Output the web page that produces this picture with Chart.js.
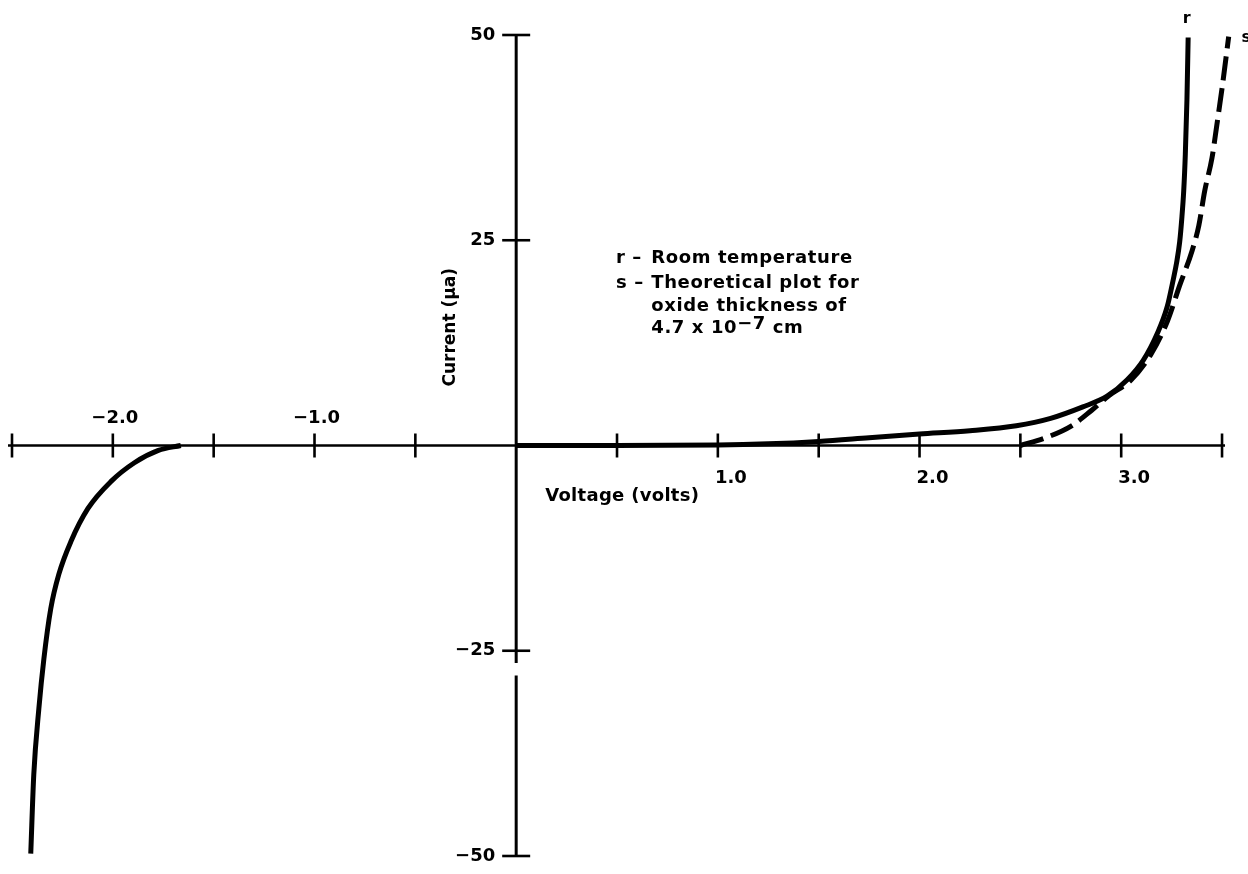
<!DOCTYPE html>
<html>
<head>
<meta charset="utf-8">
<script src="https://cdn.jsdelivr.net/npm/chart.js@4/dist/chart.umd.min.js"></script>
<style>
  html, body { margin: 0; padding: 0; background: #fff; }
  #wrap { width: 1248px; height: 874px; }
</style>
</head>
<body>
<div id="wrap"><canvas id="c" width="1248" height="874"></canvas></div>
<script>
// ---- data ----
// curve r (room temperature, solid): left branch, gap, right branch
const rX = [-2.407, -2.392, -2.367, -2.342, -2.308, -2.268, -2.208, -2.124, -2.01, -1.893, -1.774, -1.663,
            -1.0,
            0.0, 0.5, 1.0, 1.25, 1.5, 1.75, 2.0, 2.25, 2.48, 2.65, 2.81, 2.93, 3.03, 3.11, 3.18, 3.228, 3.258, 3.275, 3.29, 3.30, 3.31, 3.318, 3.326, 3.332];
const rY = [-49.7, -40.1, -32.1, -26.0, -19.9, -15.7, -11.7, -7.7, -4.4, -2.1, -0.6, 0.0,
            null,
            0.0, 0.0, 0.05, 0.2, 0.5, 0.95, 1.4, 1.8, 2.4, 3.3, 4.7, 6.0, 8.0, 10.4, 13.7, 16.9, 20.2, 22.3, 24.8, 27.5, 31.0, 35.5, 42.1, 49.7];
// curve s (theoretical, dashed)
const sX = [2.5, 2.62, 2.754, 2.854, 2.94, 3.05, 3.15, 3.23, 3.29, 3.35, 3.385, 3.414, 3.45, 3.474, 3.50, 3.533];
const sY = [0.0, 0.9, 2.4, 4.3, 6.1, 8.0, 11.2, 15.2, 19.5, 23.6, 26.8, 31.0, 35.0, 39.0, 43.5, 49.8];

// axis ticks and labels
const xAxisStart = -2.5, xAxisEnd = 3.5, yAxisTop = 50, yAxisBottom = -50;
const xViewMin = -2.5, xViewMax = 3.6, yViewMin = -50, yViewMax = 52;
const xTickValues = [-2.5, -2, -1.5, -1, -0.5, 0.5, 1, 1.5, 2, 2.5, 3, 3.5];
const xLabelValues = [-2, -1, 1, 2, 3];
const xLabelTexts = ['\u22122.0', '\u22121.0', '1.0', '2.0', '3.0'];
const yTickValues = [50, 25, -25, -50];
const yLabelTexts = ['50', '25', '\u221225', '\u221250'];
const yAxisBreak = [-26.5, -28.0];

const xTitle = 'Voltage (volts)';
const yTitle = 'Current (\u03bca)';
const noteLines = ['r \u2013 Room temperature', 's \u2013 Theoretical plot for', 'oxide thickness of'];
const noteLast = ['4.7 x 10', '\u22127', ' cm'];

const FONT = 'bold 18px "DejaVu Sans", sans-serif';

const toPts = (xs, ys) => xs.map((x, i) => ({ x: x, y: ys[i] }));

const axesPlugin = {
  id: 'crossAxes',
  beforeDatasetsDraw(chart) {
    const ctx = chart.ctx;
    const xs = chart.scales.x, ys = chart.scales.y;
    const x0 = xs.getPixelForValue(0), y0 = ys.getPixelForValue(0);
    ctx.save();
    ctx.strokeStyle = '#000';
    ctx.lineWidth = 2.6;
    ctx.lineCap = 'butt';
    // x axis
    ctx.beginPath();
    ctx.moveTo(xs.getPixelForValue(xAxisStart) - 4, y0);
    ctx.lineTo(xs.getPixelForValue(xAxisEnd) + 3, y0);
    ctx.stroke();
    xTickValues.forEach(v => {
      const p = xs.getPixelForValue(v);
      ctx.beginPath(); ctx.moveTo(p, y0 - 12); ctx.lineTo(p, y0 + 12); ctx.stroke();
    });
    // y axis (with small break as in the original)
    ctx.lineWidth = 3;
    ctx.beginPath();
    ctx.moveTo(x0, ys.getPixelForValue(yAxisTop));
    ctx.lineTo(x0, ys.getPixelForValue(yAxisBreak[0]));
    ctx.moveTo(x0, ys.getPixelForValue(yAxisBreak[1]));
    ctx.lineTo(x0, ys.getPixelForValue(yAxisBottom));
    ctx.stroke();
    ctx.lineWidth = 2.6;
    yTickValues.forEach(v => {
      const p = ys.getPixelForValue(v);
      ctx.beginPath(); ctx.moveTo(x0 - 14, p); ctx.lineTo(x0 + 14, p); ctx.stroke();
    });
    ctx.restore();
  },
  afterDatasetsDraw(chart) {
    const ctx = chart.ctx;
    const xs = chart.scales.x, ys = chart.scales.y;
    const x0 = xs.getPixelForValue(0), y0 = ys.getPixelForValue(0);
    ctx.save();
    ctx.fillStyle = '#000';
    ctx.font = FONT;
    ctx.textBaseline = 'middle';
    // x tick labels: negatives above, positives below and slightly right
    xLabelValues.forEach((v, i) => {
      const p = xs.getPixelForValue(v);
      ctx.textAlign = 'center';
      if (v < 0) ctx.fillText(xLabelTexts[i], p + 2, y0 - 27);
      else ctx.fillText(xLabelTexts[i], p + 13, y0 + 33);
    });
    // y tick labels
    yTickValues.forEach((v, i) => {
      const p = ys.getPixelForValue(v);
      ctx.textAlign = 'right';
      ctx.fillText(yLabelTexts[i], x0 - 21, p);
    });
    // axis titles
    ctx.font = 'bold 18px "DejaVu Sans", sans-serif';
    ctx.letterSpacing = '0.3px';
    ctx.textAlign = 'left';
    ctx.fillText(xTitle, x0 + 29, y0 + 51);
    ctx.save();
    ctx.translate(x0 - 66, ys.getPixelForValue(14.4));
    ctx.rotate(-Math.PI / 2);
    ctx.textAlign = 'center';
    ctx.font = 'bold 17px "DejaVu Sans", sans-serif';
    ctx.letterSpacing = '0px';
    ctx.fillText(yTitle, 0, 0);
    ctx.restore();
    // note text
    const nx = xs.getPixelForValue(0.5) - 1;
    const tx = xs.getPixelForValue(0.67);
    ctx.textAlign = 'left';
    ctx.font = 'bold 18px "DejaVu Sans", sans-serif';
    ctx.letterSpacing = '0.6px';
    const lineY = [22.8, 19.7, 17.0, 14.3];
    ['r', 's'].forEach((ch, i) => {
      const y = ys.getPixelForValue(lineY[i]);
      ctx.fillText(ch + ' \u2013', nx, y);
      ctx.fillText(noteLines[i].slice(4), tx, y);
    });
    ctx.fillText(noteLines[2], tx, ys.getPixelForValue(lineY[2]));
    let y = ys.getPixelForValue(lineY[3]);
    let cx = tx;
    ctx.fillText(noteLast[0], cx, y); cx += ctx.measureText(noteLast[0]).width;
    ctx.fillText(noteLast[1], cx, y - 4); cx += ctx.measureText(noteLast[1]).width;
    ctx.fillText(noteLast[2], cx, y);
    // curve letters
    ctx.letterSpacing = '0px';
    ctx.font = 'bold 16px "DejaVu Sans", sans-serif';
    ctx.textAlign = 'center';
    ctx.fillText('r', xs.getPixelForValue(3.325), ys.getPixelForValue(52.0));
    ctx.fillText('s', xs.getPixelForValue(3.62), ys.getPixelForValue(49.6));
    ctx.restore();
  }
};

// chart area chosen so x -2.5..3.5 spans px 12..1222 and y 50..-50 spans px 35..856
new Chart(document.getElementById('c'), {
  type: 'line',
  data: {
    datasets: [
      {
        label: 'r',
        data: toPts(rX, rY),
        borderColor: '#000',
        borderWidth: 5,
        pointRadius: 0,
        cubicInterpolationMode: 'monotone',
        spanGaps: false,
        fill: false,
        clip: false
      },
      {
        label: 's',
        data: toPts(sX, sY),
        borderColor: '#000',
        borderWidth: 5,
        borderDash: [24, 8],
        pointRadius: 0,
        cubicInterpolationMode: 'monotone',
        fill: false,
        clip: false
      }
    ]
  },
  options: {
    responsive: false,
    animation: false,
    devicePixelRatio: 1,
    layout: { padding: { left: 12, right: 5.8, top: 18.58, bottom: 18 } },
    plugins: { legend: { display: false }, tooltip: { enabled: false } },
    scales: {
      x: { type: 'linear', min: xViewMin, max: xViewMax, display: false },
      y: { type: 'linear', min: yViewMin, max: yViewMax, display: false }
    }
  },
  plugins: [axesPlugin]
});
</script>
</body>
</html>
